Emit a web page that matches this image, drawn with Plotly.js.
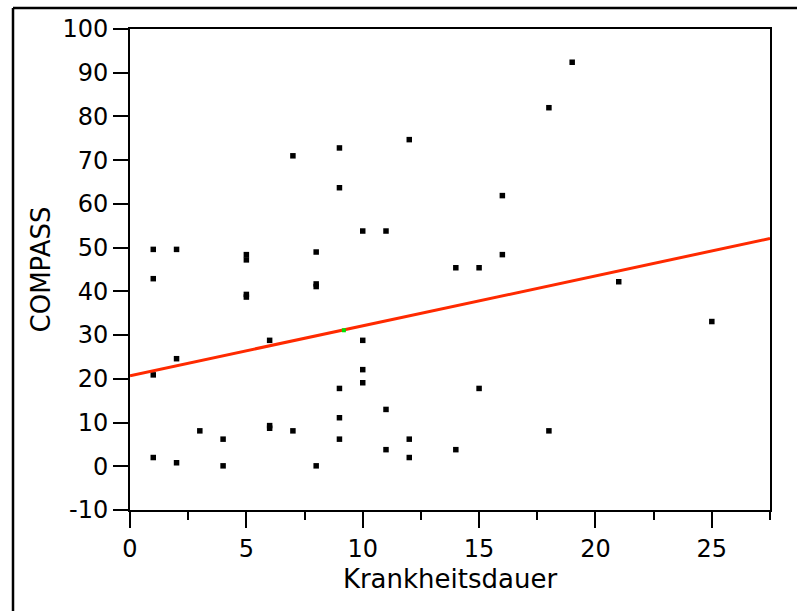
<!DOCTYPE html>
<html>
<head>
<meta charset="utf-8">
<script src="https://cdn.plot.ly/plotly-3.0.1.min.js"></script>
<style>
  html, body { margin: 0; padding: 0; background: #fff; }
  #chart { width: 797px; height: 611px; }
</style>
</head>
<body>
<div id="chart"></div>
<script>
// Observed data: Krankheitsdauer (x) vs COMPASS (y)
const krankheitsdauer = [
  1, 1, 1, 1,
  2, 2, 2,
  3,
  4, 4,
  5, 5, 5, 5,
  6, 6, 6,
  7, 7,
  8, 8, 8, 8,
  9, 9, 9, 9, 9,
  10, 10, 10, 10,
  11, 11, 11,
  12, 12, 12,
  14, 14,
  15, 15,
  16, 16,
  18, 18,
  19,
  21,
  25
];
const compass = [
  49.6, 42.9, 20.9, 2.0,
  49.6, 24.6, 0.8,
  8.1,
  6.2, 0.1,
  48.4, 47.2, 39.3, 38.7,
  28.8, 9.3, 8.7,
  71.0, 8.1,
  49.0, 41.7, 41.1, 0.1,
  72.8, 63.7, 17.8, 11.1, 6.2,
  53.8, 28.8, 22.1, 19.1,
  53.8, 13.0, 3.8,
  74.7, 6.2, 2.0,
  45.4, 3.8,
  45.4, 17.8,
  61.9, 48.4,
  82.0, 8.1,
  92.4,
  42.2,
  33.1
];
// Fitted regression line
const fitX = [0, 27.5];
const fitY = [20.7, 52.1];
// Mean point (green marker)
const meanX = [9.19];
const meanY = [31.1];

const xTicks = [0, 5, 10, 15, 20, 25];
const yTicks = [-10, 0, 10, 20, 30, 40, 50, 60, 70, 80, 90, 100];

const font = 'DejaVu Sans, Verdana, sans-serif';

const traces = [
  {
    x: krankheitsdauer, y: compass, type: 'scatter', mode: 'markers',
    marker: { symbol: 'square', size: 5.5, color: '#000000', line: { width: 0 } },
    hoverinfo: 'x+y'
  },
  {
    x: fitX, y: fitY, type: 'scatter', mode: 'lines',
    line: { color: '#ff2a00', width: 3 }
  },
  {
    x: meanX, y: meanY, type: 'scatter', mode: 'markers',
    marker: { symbol: 'square', size: 4, color: '#00e000', line: { width: 0 } }
  }
];

// outer frame positions in paper coords
const ml = 130, mr = 27, mt = 29, mb = 101, W = 797, H = 611;
const pw = W - ml - mr, ph = H - mt - mb;
const px = v => (v - ml) / pw;
const py = v => (H - mb - v) / ph;

const layout = {
  width: W, height: H,
  margin: { l: ml, r: mr, t: mt, b: mb, pad: 0 },
  paper_bgcolor: '#ffffff', plot_bgcolor: '#ffffff',
  showlegend: false,
  font: { family: font, color: '#000000' },
  xaxis: {
    range: [0, 27.5], tickvals: xTicks, ticktext: xTicks.map(String),
    ticks: 'outside', ticklen: 16, tickwidth: 2, tickcolor: '#000',
    showline: true, linewidth: 2, linecolor: '#000', mirror: true,
    showgrid: false, zeroline: false, automargin: false,
    tickfont: { family: font, size: 24, color: '#000' },
    minor: { tick0: 0, dtick: 2.5, ticks: 'outside', ticklen: 8, tickwidth: 2, tickcolor: '#000', showgrid: false },
    title: { text: 'Krankheitsdauer', font: { family: font, size: 26, color: '#000' }, standoff: 8 }
  },
  yaxis: {
    range: [-10, 100], tickvals: yTicks, ticktext: yTicks.map(v => v < 0 ? '-' + Math.abs(v) : String(v)),
    ticks: 'outside', ticklen: 15, tickwidth: 2, tickcolor: '#000',
    showline: true, linewidth: 2, linecolor: '#000', mirror: true,
    showgrid: false, zeroline: false, automargin: false,
    tickfont: { family: font, size: 24, color: '#000' },
    title: { text: 'COMPASS', font: { family: font, size: 26, color: '#000' }, standoff: 4 }
  },
  shapes: [
    { type: 'line', xref: 'paper', yref: 'paper', x0: px(13), x1: px(800), y0: py(8), y1: py(8), line: { color: '#000', width: 2.5 } },
    { type: 'line', xref: 'paper', yref: 'paper', x0: px(13), x1: px(13), y0: py(8), y1: py(620), line: { color: '#000', width: 2.5 } }
  ]
};

Plotly.newPlot('chart', traces, layout, { displayModeBar: false, staticPlot: true });
</script>
</body>
</html>
